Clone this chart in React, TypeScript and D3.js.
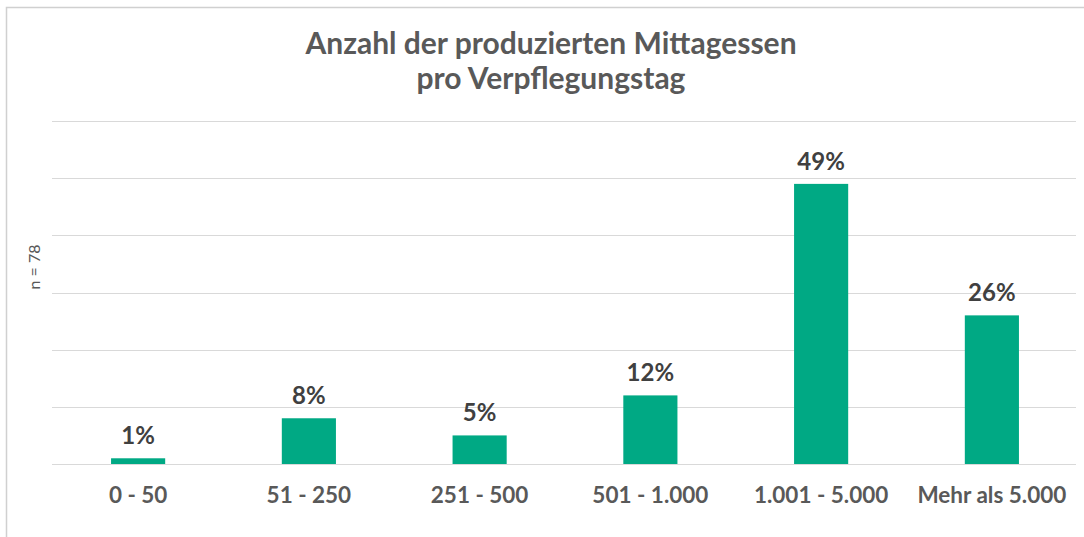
import React from "react";
import * as d3 from "d3";

const categories = ["0 - 50", "51 - 250", "251 - 500", "501 - 1.000", "1.001 - 5.000", "Mehr als 5.000"];
const values = [1, 8, 5, 12, 49, 26];
const yTicks = [0, 10, 20, 30, 40, 50, 60];
const titleLines = ["Anzahl der produzierten Mittagessen", "pro Verpflegungstag"];
const sampleNote = "n = 78";

const W = 1084;
const H = 537;
const FONT = "Lato, 'Open Sans', sans-serif";

export default function App() {
  const x = d3.scaleBand<string>().domain(categories).range([53, 1077]).paddingInner(0.683).paddingOuter(0.34);
  const y = d3.scaleLinear().domain([0, 60]).range([464, 121]);

  return (
    <svg width={W} height={H} style={{ position: "absolute", left: 0, top: 0, background: "#fff" }} fontFamily={FONT}>
      <rect x={6.5} y={7.5} width={W + 10} height={H + 10} fill="#fff" stroke="#d0d0d0" strokeWidth={1.5} />
      {titleLines.map((t, i) => (
        <text key={t} x={551} y={54 + i * 35} textAnchor="middle" fontSize={30} fontWeight={700} fill="#595959">
          {t}
        </text>
      ))}
      {yTicks.map((t) => (
        <line key={t} x1={52} x2={1076} y1={Math.round(y(t)) + 0.5} y2={Math.round(y(t)) + 0.5} stroke="#d9d9d9" strokeWidth={1} />
      ))}
      <text transform={`translate(40,267) rotate(-90)`} textAnchor="middle" fontSize={16} fill="#595959">
        {sampleNote}
      </text>
      {categories.map((c, i) => {
        const bx = x(c)!;
        const bw = x.bandwidth();
        const cx = bx + bw / 2;
        return (
          <g key={c}>
            <rect x={bx} y={y(values[i])} width={bw} height={y(0) - y(values[i])} fill="#00A984" />
            <text x={cx} y={y(values[i]) - 14} textAnchor="middle" fontSize={24} fontWeight={700} fill="#404040">
              {values[i]}%
            </text>
            <text x={cx} y={503} textAnchor="middle" fontSize={22.5} fontWeight={700} fill="#595959">
              {c}
            </text>
          </g>
        );
      })}
    </svg>
  );
}
